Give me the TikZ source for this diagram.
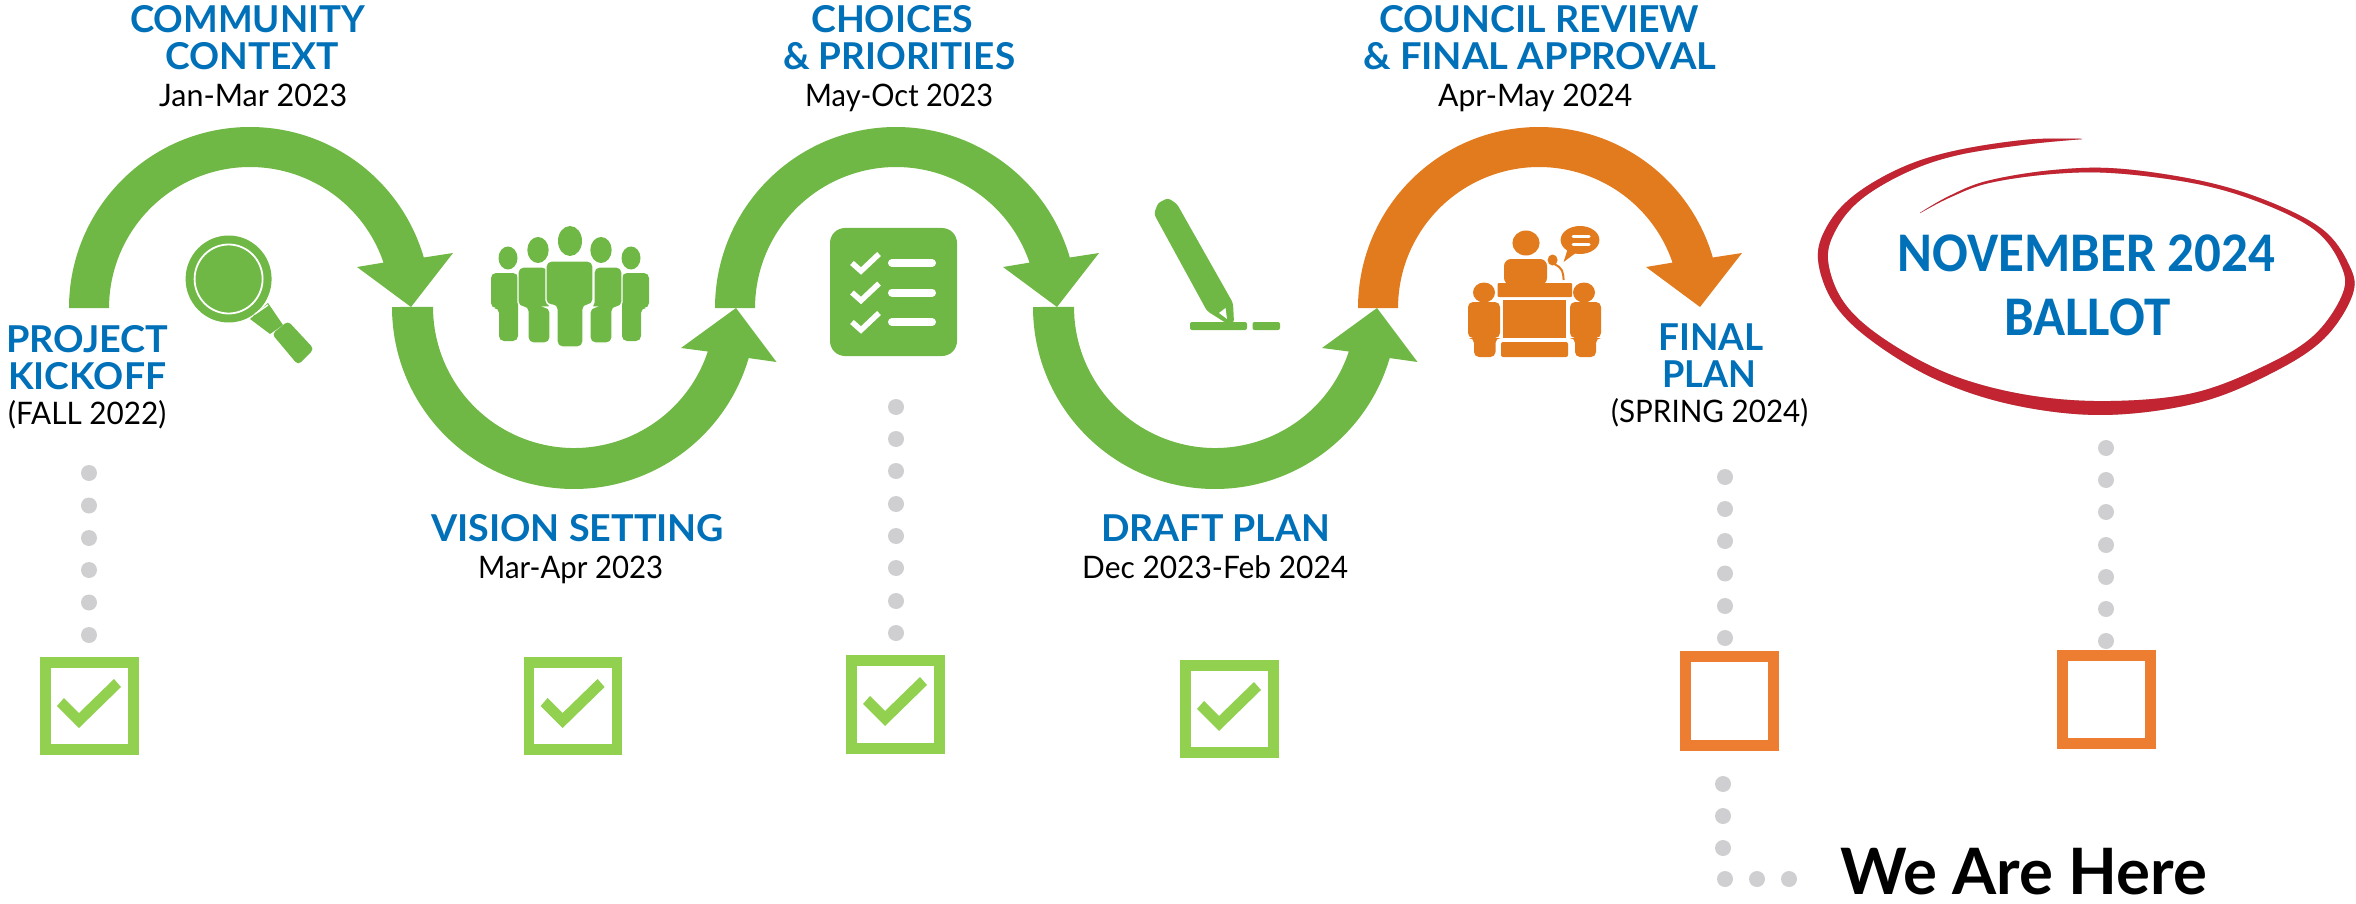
\documentclass[tikz,border=0pt]{standalone}
\usepackage{graphicx}
\usepackage{fontspec}
\setmainfont{Lato}
\newfontfamily\headf{Lato}[UprightFont=* Bold]
\newfontfamily\bodyf{Lato}
\newfontfamily\ballotf{Carlito}[BoldFont=* Bold]
\newfontfamily\heref{Lato}[BoldFont=* Bold]
\usetikzlibrary{calc}
\definecolor{mgreen}{HTML}{70B845}
\definecolor{morange}{HTML}{E27B1E}
\definecolor{mblue}{HTML}{0070B9}
\definecolor{dotgrey}{HTML}{CFCED0}
\definecolor{cgreen}{HTML}{92D050}
\definecolor{corange}{HTML}{ED7D31}
\definecolor{mred}{HTML}{C32432}
\newsavebox\fbx
\newcommand\fitw[2]{\sbox\fbx{#2}\pgfmathsetmacro\fr{#1/\the\wd\fbx}\scalebox{\fr}[1]{\usebox\fbx}}
\newcommand\upperarrow[3]{\begin{scope}[shift={(#1,#2)}]
 \fill[#3] (-181,0) arc[start angle=180,end angle=16.2,radius=181pt] -- (203,-55) -- (161,-1) -- (107,-41) -- (133.5,-45.4) arc[start angle=18.8,end angle=180,radius=141pt] -- cycle;
 \end{scope}}
\newcommand\lowerarrow[3]{\begin{scope}[shift={(#1,#2)}]
 \fill[#3] (-182,0) arc[start angle=180,end angle=343.7,radius=182pt] -- (202.5,55) -- (162,1) -- (107,41) -- (133.8,44.5) arc[start angle=341.6,end angle=180,radius=141pt] -- cycle;
 \end{scope}}
\newcommand\checkmk[2]{\begin{scope}[shift={(#1,#2)}]
 \fill[cgreen] (57,706) -- (64,698) -- (79,713) -- (114,679) -- (121,687) -- (79,728) -- cycle;
 \end{scope}}
% silhouette: x1 x2 ytop ybody lx1 lx2 ybot
\newcommand\silh[8]{\fill[#8,rounded corners=5pt] (#1,#3) -- (#2,#3) -- (#2,#4) -- (#6,#4) -- (#6,#7) -- (#5,#7) -- (#5,#4) -- (#1,#4) -- cycle;}
\newcommand\silhw[8]{\fill[#8,draw=white,line width=1.4pt,rounded corners=5pt] (#1,#3) -- (#2,#3) -- (#2,#4) -- (#6,#4) -- (#6,#7) -- (#5,#7) -- (#5,#4) -- (#1,#4) -- cycle;}
\tikzset{
 x=1pt,y=-1pt,
 head/.style={anchor=base west,inner sep=0pt,text=mblue,font=\headf\fontsize{37}{37}\selectfont},
 body/.style={anchor=base west,inner sep=0pt,text=black,font=\bodyf\fontsize{31}{31}\selectfont},
 ballot/.style={anchor=base west,inner sep=0pt,text=mblue,font=\ballotf\bfseries\fontsize{56}{56}\selectfont},
 hereis/.style={anchor=base west,inner sep=0pt,text=black,font=\heref\bfseries\fontsize{64}{64}\selectfont},
 greenbox/.style={draw=cgreen,line width=10.7pt,minimum width=88pt,minimum height=87.5pt,inner sep=0pt,outer sep=0pt},
 orangebox/.style={draw=corange,line width=11pt,minimum width=88.4pt,minimum height=88.4pt,inner sep=0pt,outer sep=0pt},
 dotmark/.style={fill=dotgrey},
}
\begin{document}
\begin{tikzpicture}
\useasboundingbox (0,0) rectangle (2356,904);
% arrows
\upperarrow{250}{308}{mgreen}
\lowerarrow{574}{307}{mgreen}
\upperarrow{896}{308}{mgreen}
\lowerarrow{1215}{307}{mgreen}
\upperarrow{1539}{308}{morange}
% dots
\foreach \y in {473,505.5,538,570,602.5,635} \fill[dotmark] (89,\y) circle[radius=8pt];
\foreach \y in {407,439,471,504,536,568,601,633} \fill[dotmark] (896,\y) circle[radius=8pt];
\foreach \y in {477,509,541,573.5,606,638} \fill[dotmark] (1725,\y) circle[radius=8pt];
\foreach \y in {448,480,512,545,577,609,641} \fill[dotmark] (2106,\y) circle[radius=8pt];
\foreach \y in {784,816,848} \fill[dotmark] (1723,\y) circle[radius=8pt];
\foreach \x in {1725,1757,1789} \fill[dotmark] (\x,879) circle[radius=8pt];
% boxes
\node[greenbox] (box1) at (89.3,706) {};
\node[greenbox] (box2) at (572.9,706) {};
\node[greenbox] (box3) at (895.3,704.5) {};
\node[greenbox] (box4) at (1229.5,709) {};
\node[orangebox] (box5) at (1729.3,700.8) {};
\node[orangebox] (box6) at (2106.5,699.5) {};
\checkmk{0}{0}
\checkmk{483.6}{0}
\checkmk{806}{-2}
\checkmk{1140}{3}
% magnifier
\fill[mgreen] (228.6,279) ellipse[x radius=43pt,y radius=43.5pt];
\draw[white,line width=1.8pt] (228.6,279) ellipse[x radius=34pt,y radius=34.5pt];
\fill[mgreen] (250,319) -- (268,303) -- (283,325) -- (270,334) -- cycle;
\draw[white,line width=1.4pt] (255,314) -- (268,305);
\fill[mgreen,rounded corners=4pt] (272,334) -- (288,321) -- (314,349) -- (298,365) -- cycle;
% people
\silh{491}{518}{273}{308}{499}{518}{341}{mgreen}
\silh{622}{649}{273}{308}{622}{641}{341}{mgreen}
\fill[mgreen] (508,258) ellipse[x radius=9.5pt,y radius=11.5pt];
\fill[mgreen] (631,258) ellipse[x radius=9.5pt,y radius=11.5pt];
\silhw{518}{548}{267}{307}{528}{550}{343}{mgreen}
\silhw{594}{622}{267}{307}{590}{612}{343}{mgreen}
\fill[mgreen] (538,250) ellipse[x radius=10.7pt,y radius=13pt];
\fill[mgreen] (601,250) ellipse[x radius=10.7pt,y radius=13pt];
\silhw{546}{593}{261}{305}{557}{583}{347}{mgreen}
\fill[mgreen] (570,241) ellipse[x radius=12pt,y radius=15pt];
% checklist
\fill[mgreen,rounded corners=15pt] (830,228) rectangle (957,356);
\foreach \y in {263,292.5,322} {
 \draw[white,line width=5.5pt] (852,\y) -- (861,\y+8) -- (879,\y-9);
 \draw[white,line width=8pt,line cap=round] (892,\y) -- (932,\y);
}
% pen
\fill[mgreen,rounded corners=3pt] (1154,214) -- (1207,311) -- (1226,323) -- (1234,323) -- (1233,303) -- (1177,204) -- (1168,198) -- (1158,203) -- cycle;
\fill[white] (1219,313) -- (1225.5,308) -- (1227,319) -- cycle;
\fill[mgreen,rounded corners=2pt] (1190,322) rectangle (1247,330);
\fill[mgreen,rounded corners=2pt] (1252.5,322) rectangle (1280,330);
% podium
\fill[morange] (1526,243) ellipse[x radius=13.6pt,y radius=12.5pt];
\fill[morange,rounded corners=7pt] (1504,285) -- (1504,259) -- (1547,259) -- (1547,285) -- cycle;
\fill[morange] (1580,240) ellipse[x radius=19.4pt,y radius=14pt];
\fill[morange] (1568,248) -- (1563.6,262) -- (1577,252) -- cycle;
\draw[white,line width=3pt,line cap=round] (1573,237) -- (1589,237) (1573,245) -- (1589,245);
\fill[morange] (1552.6,260) ellipse[x radius=5pt,y radius=5.5pt];
\draw[morange,line width=2pt] (1554,264) .. controls (1563,268) and (1563,272) .. (1563.6,280);
\fill[morange,rounded corners=1pt] (1497.5,283) rectangle (1572,297);
\fill[morange] (1503,300) rectangle (1565.5,338);
\fill[morange,rounded corners=2pt] (1501,342) rectangle (1568,357);
\fill[morange] (1484,292.5) ellipse[x radius=11pt,y radius=10pt];
\silh{1468}{1500}{302}{338}{1474}{1495.5}{357}{morange}
\fill[morange] (1584,292.5) ellipse[x radius=11pt,y radius=10pt];
\silh{1570}{1601}{302}{338}{1575}{1596}{357}{morange}
% red ring
\coordinate (ringc) at (2087,275);
\foreach \px/\py/\h [count=\n] in {2082/139/0.2,2027/142/2.5,1956/153/3,1904/170/4,1858/197/4.5,1832/227/5,1823/260/5,1839/303/5,1878/340/5.5,1943/377/6,2020/400/6.5,2105/408/7,2195/398/6,2267/370/6,2319/337/5.5,2348/293/5,2344/263/4,2319/230/3.5,2267/203/3,2202/183/2.5,2118/171/2.5,2053/172/2,1988/182/1.5,1949/197/1,1920/213/0.2} {
 \coordinate (ro\n) at ($(\px,\py)!-\h pt!(ringc)$);
 \coordinate (ri\n) at ($(\px,\py)!\h pt!(ringc)$);
}
\def\ringpath{plot[smooth,tension=.6] coordinates {(ro1)(ro2)(ro3)(ro4)(ro5)(ro6)(ro7)(ro8)(ro9)(ro10)(ro11)(ro12)(ro13)(ro14)(ro15)(ro16)(ro17)(ro18)(ro19)(ro20)(ro21)(ro22)(ro23)(ro24)(ro25)} -- plot[smooth,tension=.6] coordinates {(ri25)(ri24)(ri23)(ri22)(ri21)(ri20)(ri19)(ri18)(ri17)(ri16)(ri15)(ri14)(ri13)(ri12)(ri11)(ri10)(ri9)(ri8)(ri7)(ri6)(ri5)(ri4)(ri3)(ri2)(ri1)} -- cycle}
\fill[black,opacity=.12,shift={(5,8)}] \ringpath;
\fill[black,opacity=.15,shift={(3,4)}] \ringpath;
\fill[mred] \ringpath;
% text
\node[head] (t1) at (130,33) {\fitw{235}{COMMUNITY}};
\node[head] (t2) at (165,70) {\fitw{174}{CONTEXT}};
\node[body] (t3) at (159,107) {\fitw{188}{Jan-Mar 2023}};
\node[head] (t4) at (811,33) {\fitw{162}{CHOICES}};
\node[head] (t5) at (783,70) {\fitw{232}{\& PRIORITIES}};
\node[body] (t6) at (805,107) {\fitw{188}{May-Oct 2023}};
\node[head] (t7) at (1379,33) {\fitw{320}{COUNCIL REVIEW}};
\node[head] (t8) at (1363,70) {\fitw{353}{\& FINAL APPROVAL}};
\node[body] (t9) at (1438,107) {\fitw{194}{Apr-May 2024}};
\node[head] (t10) at (6,352) {\fitw{162}{PROJECT}};
\node[head] (t11) at (8,389) {\fitw{158}{KICKOFF}};
\node[body] (t12) at (8,424) {\fitw{158}{(FALL 2022)}};
\node[head] (t13) at (431,541) {\fitw{293}{VISION SETTING}};
\node[body] (t14) at (478,578) {\fitw{185}{Mar-Apr 2023}};
\node[head] (t15) at (1101,541) {\fitw{229}{DRAFT PLAN}};
\node[body] (t16) at (1082,578) {\fitw{266}{Dec 2023-Feb 2024}};
\node[head] (t17) at (1658,350) {\fitw{105}{FINAL}};
\node[head] (t18) at (1662,387) {\fitw{94}{PLAN}};
\node[body] (t19) at (1611,422) {\fitw{197}{(SPRING 2024)}};
\node[ballot] (t20) at (1897,272) {\fitw{378}{NOVEMBER 2024}};
\node[ballot] (t21) at (2004,335) {\fitw{166}{BALLOT}};
\node[hereis] (t22) at (1840,894) {\fitw{367}{We Are Here}};
\end{tikzpicture}
\end{document}
